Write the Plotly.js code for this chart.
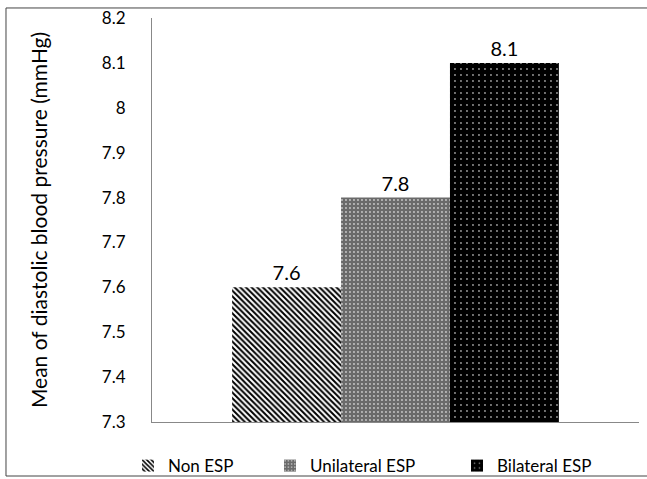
<!DOCTYPE html>
<html>
<head>
<meta charset="utf-8">
<script src="https://cdn.plot.ly/plotly-3.0.1.min.js"></script>
<style>html,body{margin:0;padding:0;background:#fff;}#chart{width:647px;height:479px;}</style>
</head>
<body>
<div id="chart"></div>
<script>
var seriesNames = ['Non ESP', 'Unilateral ESP', 'Bilateral ESP'];
var seriesValues = [7.6, 7.8, 8.1];
var groupCategory = ['ESP'];
var yTitle = 'Mean of diastolic blood pressure (mmHg)';

var patterns = [
  {shape: '\\', fgcolor: '#000000', bgcolor: '#ffffff', size: 4, solidity: 0.5, fillmode: 'replace'},
  {shape: '.', fgcolor: '#c8c8c8', bgcolor: '#6a6a6a', size: 4, solidity: 0.18, fillmode: 'replace'},
  {shape: '.', fgcolor: '#9a9a9a', bgcolor: '#000000', size: 6, solidity: 0.08, fillmode: 'replace'}
];
var legendIds = ['legend', 'legend2', 'legend3'];
var legendX = [-0.0493, 0.2423, 0.6263];

var FONT = 'Lato, "Open Sans", sans-serif';
var traces = seriesNames.map(function(name, i){
  return {
    type: 'bar',
    name: name,
    legend: legendIds[i],
    x: groupCategory,
    y: [seriesValues[i]],
    text: [String(seriesValues[i])],
    textposition: 'outside',
    textfont: {family: FONT, size: 20, color: '#000'},
    cliponaxis: false,
    marker: {color: patterns[i].bgcolor, line: {width: 0}, pattern: patterns[i]}
  };
});

var layout = {
  width: 647, height: 479,
  margin: {l: 152, r: 8, t: 18, b: 57, autoexpand: false},
  paper_bgcolor: '#fff', plot_bgcolor: '#fff',
  font: {family: FONT, size: 17, color: '#000'},
  barmode: 'group',
  bargap: 0.329,
  bargroupgap: 0,
  showlegend: true,
  xaxis: {type: 'category', showticklabels: false, showline: true, linecolor: '#888', linewidth: 1,
          ticks: '', showgrid: false, zeroline: false, range: [-0.5, 0.5]},
  yaxis: {range: [7.3, 8.2], dtick: 0.1, tick0: 7.3, showline: true, linecolor: '#888', linewidth: 1,
          showgrid: false, zeroline: false, ticks: '', ticklabelstandoff: 22,
          tickfont: {family: FONT, size: 17, color: '#000'},
          title: {text: yTitle, font: {family: FONT, size: 21, color: '#000'}, standoff: 48}},
  shapes: [{type: 'rect', xref: 'paper', yref: 'paper', x0: -0.2998, x1: 1.05, y0: -0.1337, y1: 1.0248,
            line: {color: '#444', width: 1}, fillcolor: 'rgba(0,0,0,0)', layer: 'below'}]
};
legendIds.forEach(function(id, i){
  layout[id] = {orientation: 'h', x: legendX[i], xanchor: 'left', y: -0.109, yanchor: 'middle',
                bgcolor: 'rgba(0,0,0,0)', itemwidth: 30,
                font: {family: FONT, size: 17, color: '#000'}};
});

Plotly.newPlot('chart', traces, layout, {displayModeBar: false, staticPlot: true});
</script>
</body>
</html>
